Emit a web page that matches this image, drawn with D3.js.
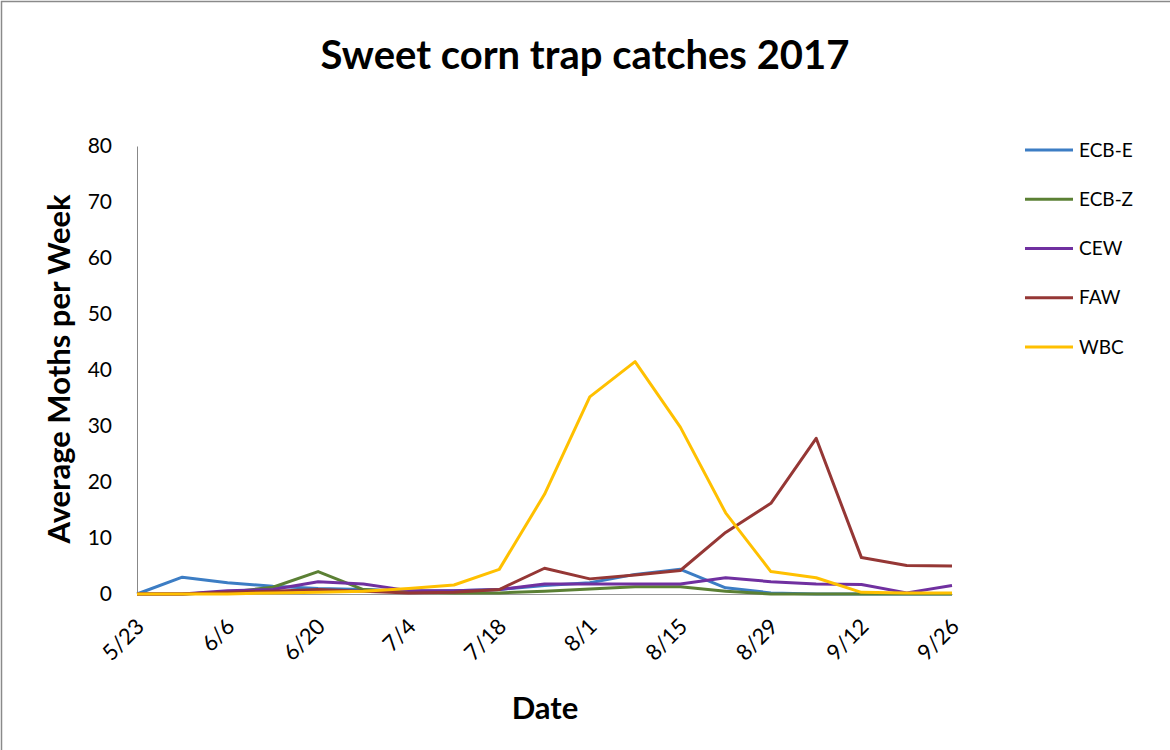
<!DOCTYPE html>
<html>
<head>
<meta charset="utf-8">
<script src="https://cdn.jsdelivr.net/npm/d3@7"></script>
<style>
  html, body { margin: 0; padding: 0; background: #fff; }
  svg { display: block; }
  text { font-family: Lato, "Open Sans", sans-serif; fill: #000; }
</style>
</head>
<body>
<svg id="chart" width="1170" height="750"></svg>
<script>
// Weekly trap dates (2017 season)
const dates = ["5/23","5/30","6/6","6/13","6/20","6/27","7/4","7/11","7/18","7/25",
               "8/1","8/8","8/15","8/22","8/29","9/5","9/12","9/19","9/26"];
// Dates shown as tick labels
const tickDates = ["5/23","6/6","6/20","7/4","7/18","8/1","8/15","8/29","9/12","9/26"];
const yTicks = [0,10,20,30,40,50,60,70,80];

// Average moths per week, per pest
const ecbE = [0, 3.0, 2.0, 1.4, 1.0, 0.8, 0.5, 0.6, 0.8, 1.5, 2.0, 3.5, 4.4, 1.1, 0.2, 0, 0, 0, 0];
const ecbZ = [0, 0, 0.3, 1.2, 4.0, 0.8, 0.3, 0.2, 0.2, 0.5, 0.9, 1.3, 1.3, 0.5, 0, 0, 0, 0, 0];
const cew  = [0, 0, 0.6, 0.8, 2.2, 1.8, 0.6, 0.6, 0.8, 1.8, 1.8, 1.8, 1.8, 2.9, 2.2, 1.8, 1.7, 0.2, 1.5];
const faw  = [0, 0, 0.3, 0.5, 0.8, 0.5, 0.2, 0.3, 0.8, 4.6, 2.7, 3.4, 4.2, 11.0, 16.2, 27.8, 6.5, 5.1, 5.0];
const wbc  = [0, 0, 0, 0.2, 0.3, 0.5, 1.0, 1.6, 4.4, 17.8, 35.2, 41.5, 29.8, 14.5, 4.0, 2.9, 0.3, 0.2, 0.2];

const seriesNames  = ["ECB-E", "ECB-Z", "CEW", "FAW", "WBC"];
const seriesValues = [ecbE, ecbZ, cew, faw, wbc];
const seriesColors = ["#3c7dc4", "#5b8034", "#7030a0", "#953735", "#ffc000"];

const svg = d3.select("#chart");

// outer frame
svg.append("rect")
  .attr("x", 1.5).attr("y", 1.5).attr("width", 1175).attr("height", 755)
  .attr("fill", "none").attr("stroke", "#8a8a8a").attr("stroke-width", 1.5);

const plot = { left: 137, right: 952, top: 146, bottom: 594 };

const x = d3.scalePoint().domain(dates).range([plot.left, plot.right]);
const y = d3.scaleLinear().domain([0, 80]).range([plot.bottom, plot.top]);

// title
svg.append("text")
  .attr("x", 585).attr("y", 69)
  .attr("text-anchor", "middle")
  .style("font-size", "40px").style("font-weight", "bold")
  .text("Sweet corn trap catches 2017");

// y axis
const yAxis = d3.axisLeft(y).tickValues(yTicks).tickSize(0).tickPadding(25);
const gy = svg.append("g").attr("transform", `translate(${plot.left},0)`).call(yAxis);
gy.select(".domain").attr("stroke", "#888").attr("stroke-width", 1);
gy.selectAll("text").style("font-size", "21px").style("font-family", "Lato, sans-serif");

// x axis
const xAxis = d3.axisBottom(x).tickValues(tickDates).tickSize(0).tickPadding(0);
const gx = svg.append("g").attr("transform", `translate(0,${plot.bottom})`).call(xAxis);
gx.select(".domain").attr("stroke", "#999").attr("stroke-width", 1);
gx.selectAll("text")
  .style("font-size", "22px").style("font-family", "Lato, sans-serif")
  .attr("text-anchor", "end")
  .attr("dy", null)
  .attr("transform", "translate(8,34) rotate(-45)");

// axis titles
svg.append("text")
  .attr("transform", `translate(70,${(plot.top + plot.bottom) / 2 - 1}) rotate(-90)`)
  .attr("text-anchor", "middle")
  .style("font-size", "31px").style("font-weight", "bold")
  .text("Average Moths per Week");

svg.append("text")
  .attr("x", 545).attr("y", 719)
  .attr("text-anchor", "middle")
  .style("font-size", "31px").style("font-weight", "bold")
  .text("Date");

// series lines
const line = d3.line()
  .x((d, i) => x(dates[i]))
  .y(d => y(d));

svg.append("g").selectAll("path")
  .data(seriesValues)
  .join("path")
  .attr("d", line)
  .attr("fill", "none")
  .attr("stroke", (d, i) => seriesColors[i])
  .attr("stroke-width", 3)
  .attr("stroke-linejoin", "round");

// legend
const legend = svg.append("g");
const legendY = d3.scalePoint().domain(seriesNames).range([150, 347]);
seriesNames.forEach((name, i) => {
  const ly = legendY(name);
  legend.append("line")
    .attr("x1", 1025).attr("x2", 1073).attr("y1", ly).attr("y2", ly)
    .attr("stroke", seriesColors[i]).attr("stroke-width", 3);
  legend.append("text")
    .attr("x", 1079).attr("y", ly).attr("dy", "0.35em")
    .style("font-size", "19px")
    .text(name);
});
</script>
</body>
</html>
